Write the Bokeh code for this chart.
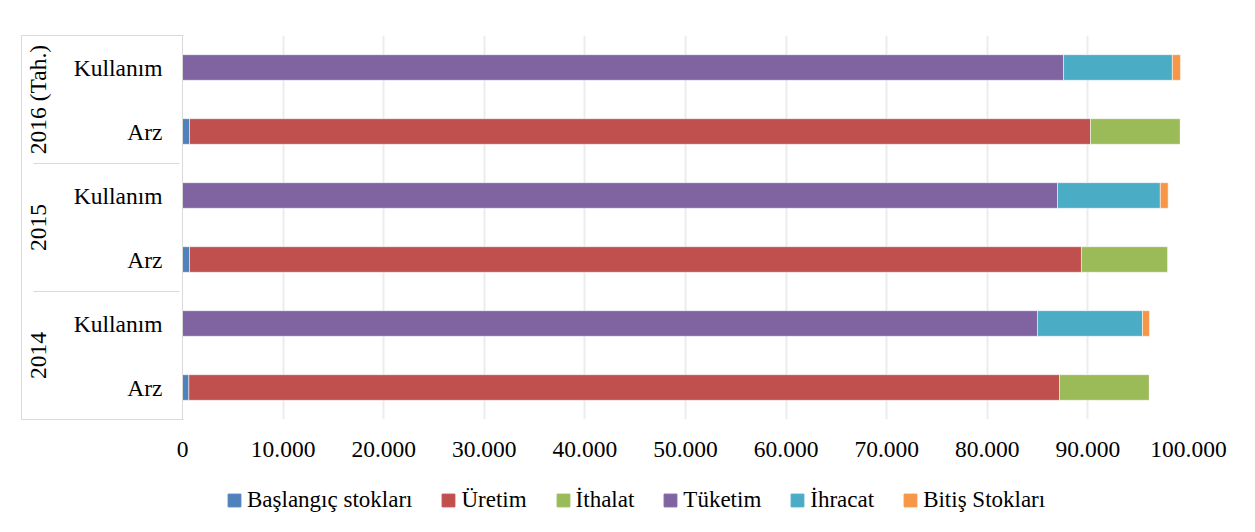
from bokeh.plotting import figure
from bokeh.layouts import column
from bokeh.models import (ColumnDataSource, FactorRange, Range1d, FixedTicker,
                          Legend, LegendItem, LinearAxis, CategoricalAxis)
from bokeh.embed import file_html
from bokeh.resources import INLINE

# ---- data ----
years = ["2014", "2014", "2015", "2015", "2016 (Tah.)", "2016 (Tah.)"]
rows = ["Arz", "Kullanım", "Arz", "Kullanım", "Arz", "Kullanım"]

series_names = ["Başlangıç stokları", "Üretim", "İthalat", "Tüketim", "İhracat", "Bitiş Stokları"]
baslangic = [630, 0, 700, 0, 700, 0]
uretim = [86550, 0, 88660, 0, 89560, 0]
ithalat = [8940, 0, 8620, 0, 8940, 0]
tuketim = [0, 84990, 0, 86980, 0, 87580]
ihracat = [0, 10440, 0, 10220, 0, 10820]
bitis = [0, 690, 0, 780, 0, 800]

colors = ["#4F81BD", "#C0504D", "#9BBB59", "#8064A2", "#4BACC6", "#F79646"]

tick_values = [0, 10000, 20000, 30000, 40000, 50000, 60000, 70000, 80000, 90000, 100000]
tick_labels = ["0", "10.000", "20.000", "30.000", "40.000", "50.000",
               "60.000", "70.000", "80.000", "90.000", "100.000"]

FONT = "Liberation Serif"
GRAY = "#d9d9d9"
W = 1247

# a non-breaking space widens the inner label column (as in the table layout)
factors = [(y, "\u00a0" + r) for y, r in zip(years, rows)]
keys = ["s0", "s1", "s2", "s3", "s4", "s5"]
source = ColumnDataSource(dict(cat=factors, s0=baslangic, s1=uretim, s2=ithalat,
                               s3=tuketim, s4=ihracat, s5=bitis))

y_range = FactorRange(*factors, range_padding=0, factor_padding=0, group_padding=0,
                      subgroup_padding=0)

p = figure(width=W, height=470, y_range=y_range, x_range=Range1d(0, 100000),
           output_backend="svg", toolbar_location=None, y_axis_location=None,
           min_border_left=182, min_border_right=59, min_border_top=35,
           min_border_bottom=51)
p.outline_line_color = None

renderers = p.hbar_stack(keys, y="cat", height=0.4, source=source, color=colors,
                         line_color="white", line_alpha=0.5, line_width=1)

# x axis
xa = p.xaxis[0]
xa.ticker = FixedTicker(ticks=tick_values)
xa.major_label_overrides = {v: l for v, l in zip(tick_values, tick_labels)}
xa.axis_line_color = None
xa.major_tick_line_color = None
xa.minor_tick_line_color = None
xa.major_label_text_font = FONT
xa.major_label_text_font_size = "23.5px"
xa.major_label_text_color = "black"
xa.major_label_standoff = 16

# y axis (two-level categories)
ya = CategoricalAxis()
ya.axis_line_color = GRAY
ya.major_tick_line_color = None
ya.minor_tick_line_color = None
ya.major_label_text_font = FONT
ya.major_label_text_font_size = "23.5px"
ya.major_label_text_color = "black"
ya.major_label_standoff = 14
ya.group_text_font = FONT
ya.group_text_font_size = "23.5px"
ya.group_text_color = "black"
ya.group_text_font_style = "normal"
ya.separator_line_color = GRAY
ya.separator_line_width = 1
p.add_layout(ya, "left")

# outer table edge: an unlabeled axis whose inward ticks close the label table
n_rows = len(factors)
edge = LinearAxis(ticker=FixedTicker(ticks=[0.0005, n_rows - 0.0005]))
edge.axis_line_color = GRAY
edge.major_tick_line_color = GRAY
edge.major_tick_in = 162
edge.major_tick_out = 0
edge.minor_tick_line_color = None
edge.major_label_text_alpha = 0
edge.major_label_text_font_size = "1px"
edge.major_label_standoff = 0
p.add_layout(edge, "left")

p.xgrid.grid_line_color = "#ececec"
p.xgrid.grid_line_width = 2
p.ygrid.grid_line_color = None

# legend strip below the chart (frames are aligned with the chart above)
lg = figure(width=W, height=524 - 470, output_backend="svg", toolbar_location=None,
            x_axis_location=None, y_axis_location=None, min_border=0,
            x_range=Range1d(0, 1), y_range=Range1d(0, 1))
lg.outline_line_color = None
lg.grid.grid_line_color = None
# swatch renderers sit outside the visible range; only their legend glyphs show
swatches = [lg.hbar(y=[-5], left=[0], right=[1], height=0.4, color=c) for c in colors]

legend = Legend(items=[LegendItem(label=n, renderers=[r]) for n, r in zip(series_names, swatches)],
                orientation="horizontal", location=(44, 11),
                label_text_font=FONT, label_text_font_size="23px", label_text_color="black",
                glyph_width=16, glyph_height=16, label_standoff=5, spacing=28,
                padding=0, margin=0, border_line_color=None, background_fill_alpha=0)
lg.add_layout(legend, "center")

layout = column(p, lg, spacing=0)
open("out.html", "w").write(file_html(layout, INLINE))
